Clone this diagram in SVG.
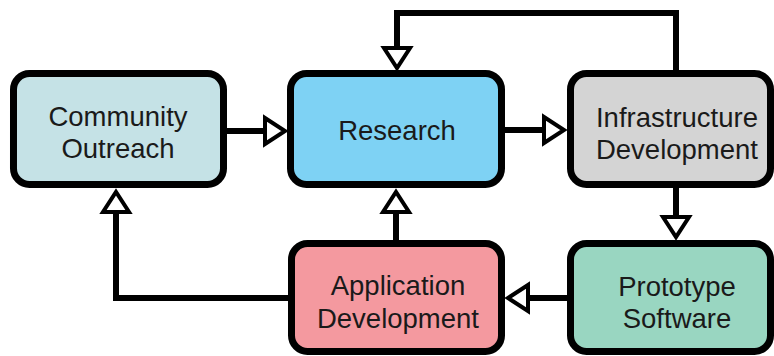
<svg xmlns="http://www.w3.org/2000/svg" width="774" height="356" viewBox="0 0 774 356">
  <style>
    .box { stroke: #000; stroke-width: 7; }
    .lbl { font-family: "Liberation Sans", Arial, sans-serif; font-size: 27.5px; fill: #1a1a1a; text-anchor: middle; }
    .line { fill: none; stroke: #000; stroke-width: 6; }
    .head { fill: #fff; stroke: #000; stroke-width: 4; stroke-linejoin: miter; }
  </style>
  <rect width="774" height="356" fill="#fff"/>
  <g id="connectors">
    <path class="line" d="M676,73 V13 H397 V48"/>
    <polygon class="head" points="384,48 410,48 397,68"/>
    <path class="line" d="M227,131 H265"/>
    <polygon class="head" points="265,118 265,144 285,131"/>
    <path class="line" d="M505,130 H544"/>
    <polygon class="head" points="544,117 544,143 564,130"/>
    <path class="line" d="M676,188 V217"/>
    <polygon class="head" points="663,217 689,217 676,237"/>
    <path class="line" d="M567,298 H528"/>
    <polygon class="head" points="528,285 528,311 508,298"/>
    <path class="line" d="M396,240 V212"/>
    <polygon class="head" points="383,212 409,212 396,192"/>
    <path class="line" d="M288,298 H116 V212"/>
    <polygon class="head" points="103,212 129,212 116,192"/>
  </g>
  <g id="community">
    <rect class="box" x="13.5" y="73.5" width="210" height="111" rx="16" fill="#c5e2e6"/>
    <text class="lbl" x="118" y="126">Community</text>
    <text class="lbl" x="118" y="158">Outreach</text>
  </g>
  <g id="research">
    <rect class="box" x="290.5" y="73.5" width="211" height="111" rx="16" fill="#7ed2f4"/>
    <text class="lbl" x="397" y="140">Research</text>
  </g>
  <g id="infrastructure">
    <rect class="box" x="570.5" y="73.5" width="200" height="111" rx="16" fill="#d4d4d4"/>
    <text class="lbl" x="677" y="127">Infrastructure</text>
    <text class="lbl" x="677" y="159">Development</text>
  </g>
  <g id="prototype">
    <rect class="box" x="570.5" y="243.5" width="200" height="108" rx="16" fill="#99d6c1"/>
    <text class="lbl" x="677" y="296">Prototype</text>
    <text class="lbl" x="677" y="328">Software</text>
  </g>
  <g id="application">
    <rect class="box" x="291.5" y="243.5" width="210" height="108" rx="16" fill="#f4999f"/>
    <text class="lbl" x="398" y="295">Application</text>
    <text class="lbl" x="398" y="328">Development</text>
  </g>
</svg>
